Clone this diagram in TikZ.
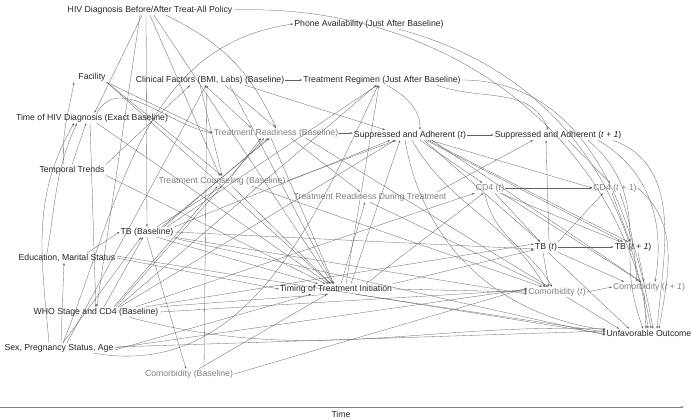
\documentclass[tikz,border=0pt]{standalone}
\usepackage{fontspec}
\setmainfont{Liberation Sans}
\usetikzlibrary{arrows.meta}
\begin{document}
\begin{tikzpicture}[x=1pt,y=-1pt,
  font=\fontsize{8.7}{10}\selectfont,
  bk/.style={text=black!85, inner sep=1pt},
  gr/.style={text=black!50, inner sep=1pt},
  arr/.style={-{Stealth[length=2.6pt,width=1.9pt]}, line width=0.3pt, draw=black!62},
  axis/.style={-{Stealth[length=3.2pt,width=2.2pt]}, line width=0.5pt, draw=black!50},
]
\useasboundingbox (0,0) rectangle (692,418);

% ---------- nodes ----------
\node[bk] (hiv)   at (150,10)  {HIV Diagnosis Before/After Treat-All Policy};
\node[bk] (phone) at (369,24)  {Phone Availability (Just After Baseline)};
\node[bk] (fac)   at (92,77)   {Facility};
\node[bk] (clin)  at (210,80)  {Clinical Factors (BMI, Labs) (Baseline)};
\node[bk] (reg)   at (382,80)  {Treatment Regimen (Just After Baseline)};
\node[bk] (tdx)   at (92,118)  {Time of HIV Diagnosis (Exact Baseline)};
\node[gr] (trb)   at (276,133) {Treatment Readiness (Baseline)};
\node[bk] (sa)    at (410,135) {Suppressed and Adherent (\textit{t})};
\node[bk] (sa1)   at (558,135) {Suppressed and Adherent (\textit{t + 1})};
\node[bk] (tt)    at (72,170)  {Temporal Trends};
\node[gr] (tc)    at (222,181) {Treatment Counseling (Baseline)};
\node[gr] (trd)   at (370,197) {Treatment Readiness During Treatment};
\node[gr] (cd4)   at (490,188) {CD4 (\textit{t})};
\node[gr] (cd41)  at (615,188) {CD4 (\textit{t} + 1)};
\node[bk] (tbb)   at (147,232) {TB (Baseline)};
\node[bk] (tb)    at (546,247) {TB (\textit{t})};
\node[bk] (tb1)   at (633,247) {TB (\textit{t + 1})};
\node[bk] (edu)   at (67,258)  {Education, Marital Status};
\node[bk] (tti)   at (336,289) {Timing of Treatment Initiation};
\node[gr] (com)   at (557,292) {Comorbidity (\textit{t})};
\node[gr] (com1)  at (649,287) {Comorbidity (\textit{t + 1})};
\node[bk] (who)   at (96,312)  {WHO Stage and CD4 (Baseline)};
\node[bk] (sex)   at (59,348)  {Sex, Pregnancy Status, Age};
\node[bk] (uo)    at (649,333) {Unfavorable Outcome};
\node[gr] (comb)  at (189,374) {Comorbidity (Baseline)};

% ---------- time axis ----------
\coordinate (t0) at (0,407);
\coordinate (t1) at (684,407);
\draw[axis] (t0) -- (t1);
\node[bk] (time) at (341,414) {Time};

% ---------- edges ----------
% HIV diagnosis policy
\draw[arr] ([xshift=-8pt]hiv.south) -- (tdx);
\draw[arr] ([xshift=16pt]hiv.south) to[bend left=20] (trb.north);
\draw[arr] ([xshift=-4pt]hiv.south) -- (tbb);
\draw[arr] (hiv.south) -- (tc);
\draw[arr] ([xshift=4pt]hiv.south) -- (tti);
\draw[arr] ([xshift=-10pt]hiv.south) -- (who);
\draw[arr] (hiv.east) to[out=2,in=100] ([xshift=2pt]uo.north);

% phone
\draw[arr] ([xshift=4pt]sex.north) to[out=68,in=188] (phone.west);
\draw[arr] ([xshift=30pt]phone.south) to[out=-15,in=97] ([xshift=-1pt]uo.north);

% facility
\draw[arr] (fac.south east) -- (tc.north);
\draw[arr] (fac.south east) -- (trb.west);
\draw[arr] (fac.south east) -- (tti);

% temporal trends
\draw[arr] (tt.north) -- ([xshift=-6pt]tdx.south);
\draw[arr] ([xshift=-8pt]tt.north) to[out=95,in=-100] ([xshift=-18pt]fac.south);
\draw[arr] (tt.south east) -- (tti);
\draw[arr] (tt.north east) -- ([xshift=-20pt]clin.south);

% time of HIV diagnosis
\draw[arr] ([xshift=5pt]tdx.north) to[out=60,in=170] (trb.west);
\draw[arr] ([xshift=-2pt]tdx.south) -- (who);
\draw[arr] ([xshift=5pt]tdx.south) -- (tti);

% clinical factors
\draw[arr] (clin.east) -- (reg.west);
\draw[arr] ([xshift=-5pt]clin.south) -- ([xshift=-25pt]trb.north);
\draw[arr] ([xshift=15pt]clin.south) -- (trb.north);
\draw[arr] ([xshift=35pt]clin.south) -- ([xshift=-25pt]sa.north);
\draw[arr] ([xshift=-10pt]clin.south) -- (tc.north);
\draw[arr] ([xshift=20pt]clin.south) -- (tti);

% regimen
\draw[arr] ([xshift=5pt]reg.south) to[out=-30,in=90] ([xshift=10pt]sa.north);
\draw[arr] ([xshift=55pt]reg.south) to[out=-20,in=110] ([xshift=-10pt]sa1.north);
\draw[arr] (reg.east) to[out=0,in=100] ([xshift=4pt]uo.north);

% treatment readiness (baseline)
\draw[arr] (trb.east) -- (trb.east -| sa.west);
\draw[arr] ([xshift=-5pt]trb.south) -- (tti);
\draw[arr] ([xshift=15pt]trb.south) -- ([xshift=-10pt]trd.north);
\draw[arr] ([xshift=30pt]trb.south) -- (com);

% treatment counseling
\draw[arr] ([xshift=10pt]tc.north) -- ([xshift=-15pt]trb.south);
\draw[arr] (tc.east) -- (sa);
\draw[arr] ([xshift=10pt]tc.south) -- (tti);
\draw[arr] ([xshift=30pt]tc.south) -- (com);

% readiness during treatment
\draw[arr] ([xshift=-10pt]trd.north east) -- ([xshift=-25pt]sa1.south);
\draw[arr] (trd.south) -- (com);

% suppressed and adherent (t)
\draw[arr] (sa.east) -- (sa1.west);
\draw[arr] ([xshift=10pt]sa.south) -- (cd4);
\draw[arr] ([xshift=20pt]sa.south) -- (cd41.west);
\draw[arr] ([xshift=14pt]sa.south) -- (tb);
\draw[arr] ([xshift=16pt]sa.south) -- (tb1);
\draw[arr] ([xshift=18pt]sa.south) -- ([xshift=-5pt]tb1.north);
\draw[arr] ([xshift=22pt]sa.south) -- (com1);
\draw[arr] ([xshift=2pt]sa.south) to[out=-60,in=120] ([xshift=-12pt]com.north);
\draw[arr] ([xshift=-5pt]sa.south) to[out=-80,in=172] ([yshift=3pt]uo.west);

% suppressed and adherent (t+1)
\draw[arr] ([xshift=10pt]sa1.south) -- ([xshift=-5pt]cd41.north);
\draw[arr] ([xshift=30pt]sa1.south) to[out=-40,in=90] ([xshift=-3pt]tb1.north);
\draw[arr] ([xshift=40pt]sa1.south) to[out=-30,in=80] ([xshift=6pt]com1.north);
\draw[arr] ([xshift=55pt]sa1.south) to[out=-20,in=85] ([xshift=8pt]uo.north);

% CD4 (t)
\draw[arr] (cd4.east) -- (cd41.west);
\draw[arr] ([xshift=5pt]cd4.south) -- ([xshift=-6pt]tb.north);
\draw[arr] ([xshift=10pt]cd4.south) -- (tb1);
\draw[arr] ([xshift=-5pt]cd4.south) to[out=-80,in=120] ([xshift=-5pt]com.north);
\draw[arr] ([xshift=12pt]cd4.south) -- (com1);

% CD4 (t+1)
\draw[arr] ([xshift=-3pt]cd41.south) -- ([xshift=-3pt]tb1.north);
\draw[arr] ([xshift=5pt]cd41.south) to[out=-70,in=95] ([xshift=-12pt]com1.north);
\draw[arr] (cd41.east) to[out=-40,in=80] ([xshift=10pt]uo.north);

% TB (t)
\draw[arr] (tb.east) -- (tb1.west);
\draw[arr] ([xshift=3pt]tb.north) -- ([xshift=-12pt]sa1.south);
\draw[arr] (tb.north east) -- ([xshift=-12pt]cd41.south);
\draw[arr] ([xshift=-3pt]tb.south) -- ([xshift=-8pt]com.north);
\draw[arr] (tb.south east) -- ([xshift=-25pt]com1.north);
\draw[arr] ([xshift=2pt]tb.south) -- ([xshift=-20pt]uo.north);

% TB (t+1)
\draw[arr] ([xshift=-3pt]tb1.south) to[bend right=10] ([xshift=-6pt]uo.north);
\draw[arr] ([xshift=5pt]tb1.south) -- ([xshift=-5pt]com1.north);

% comorbidity (t), (t+1)
\draw[arr] (com.east) -- (com1.west);
\draw[arr] ([xshift=10pt]com.south) -- ([xshift=-30pt]uo.north);
\draw[arr] ([xshift=-5pt]com1.south) -- ([xshift=-3pt]uo.north);

% timing of treatment initiation
\draw[arr] ([xshift=10pt]tti.north) -- ([xshift=-3pt]reg.south);
\draw[arr] ([xshift=15pt]tti.north) -- ([xshift=-10pt]sa.south);
\draw[arr] ([xshift=5pt]tti.north) -- ([xshift=-5pt]trd.south);
\draw[arr] ([xshift=30pt]tti.north) -- (cd4);
\draw[arr] (tti.north east) -- (tb);
\draw[arr] (tti.east) -- (com.west);
\draw[arr] ([xshift=20pt]tti.south) -- ([yshift=1pt]uo.west);

% TB (baseline)
\draw[arr] (tbb.east) -- ([yshift=-2pt]tb.west);
\draw[arr] (tbb.south east) -- ([yshift=-2pt]com.west);
\draw[arr] ([xshift=15pt]tbb.north) -- (trb);
\draw[arr] ([xshift=17pt]tbb.north) -- ([xshift=-8pt]trb.south);
\draw[arr] ([xshift=10pt]tbb.north) -- (tc.south);
\draw[arr] ([xshift=20pt]tbb.north) -- ([xshift=-5pt]reg.south);
\draw[arr] (tbb.north east) -- ([xshift=-20pt]sa.south);
\draw[arr] (tbb.south) -- ([xshift=-3pt]comb.north);
\draw[arr] ([xshift=10pt]tbb.south) -- (tti);
\draw[arr] ([yshift=-1pt]tbb.south east) -- ([yshift=-2pt]uo.west);

% education, marital status
\draw[arr] ([xshift=-20pt]edu.north) to[out=80,in=-115] ([xshift=-15pt]tdx.south);
\draw[arr] ([xshift=20pt]edu.north) -- (tbb.west);
\draw[arr] (edu.east) -- (tti.west);
\draw[arr] ([yshift=2pt]edu.east) -- ([yshift=-1pt]uo.west);

% WHO stage and CD4
\draw[arr] ([xshift=8pt]who.north) -- ([xshift=-4pt]tbb.south);
\draw[arr] ([xshift=18pt]who.north) -- (tc);
\draw[arr] ([xshift=20pt]who.north) -- ([xshift=-12pt]trb.south);
\draw[arr] ([xshift=22pt]who.north) -- ([xshift=-6pt]reg.south);
\draw[arr] ([xshift=24pt]who.north) -- ([xshift=-15pt]sa.south);
\draw[arr] ([xshift=40pt]who.north) -- (cd4);
\draw[arr] (who.east) -- ([yshift=2pt]com.west);
\draw[arr] (who.north east) -- ([xshift=-8pt]tti.south);
\draw[arr] ([xshift=50pt]who.north) -- ([yshift=3pt]tb.west);
\draw[arr] ([xshift=-30pt]who.south east) to[out=-15,in=178] ([yshift=4pt]uo.west);

% sex, pregnancy status, age
\draw[arr] ([xshift=2pt]sex.north) -- ([xshift=-3pt]edu.south);
\draw[arr] ([xshift=4pt]sex.north) -- ([xshift=-6pt]tbb.south);
\draw[arr] ([xshift=-10pt]sex.north) to[out=95,in=-120] ([xshift=-18pt]tdx.south);
\draw[arr] ([xshift=8pt]sex.north) -- ([xshift=-4pt]clin.south);
\draw[arr] (sex.east) -- ([yshift=3pt]com.west);
\draw[arr] ([yshift=1pt]sex.east) -- ([yshift=2pt]uo.west);
\draw[arr] ([xshift=35pt]sex.south) to[out=-10,in=-115] ([xshift=-4pt]reg.south);
\draw[arr] ([yshift=-2pt]sex.east) -- ([xshift=-25pt]tti.south);

% comorbidity (baseline)
\draw[arr] ([xshift=10pt]comb.north) -- (tti);
\draw[arr] (comb.east) -- ([yshift=4pt]com.west);
\draw[arr] ([xshift=15pt]comb.north) -- ([xshift=-3pt]clin.south);
\end{tikzpicture}
\end{document}
